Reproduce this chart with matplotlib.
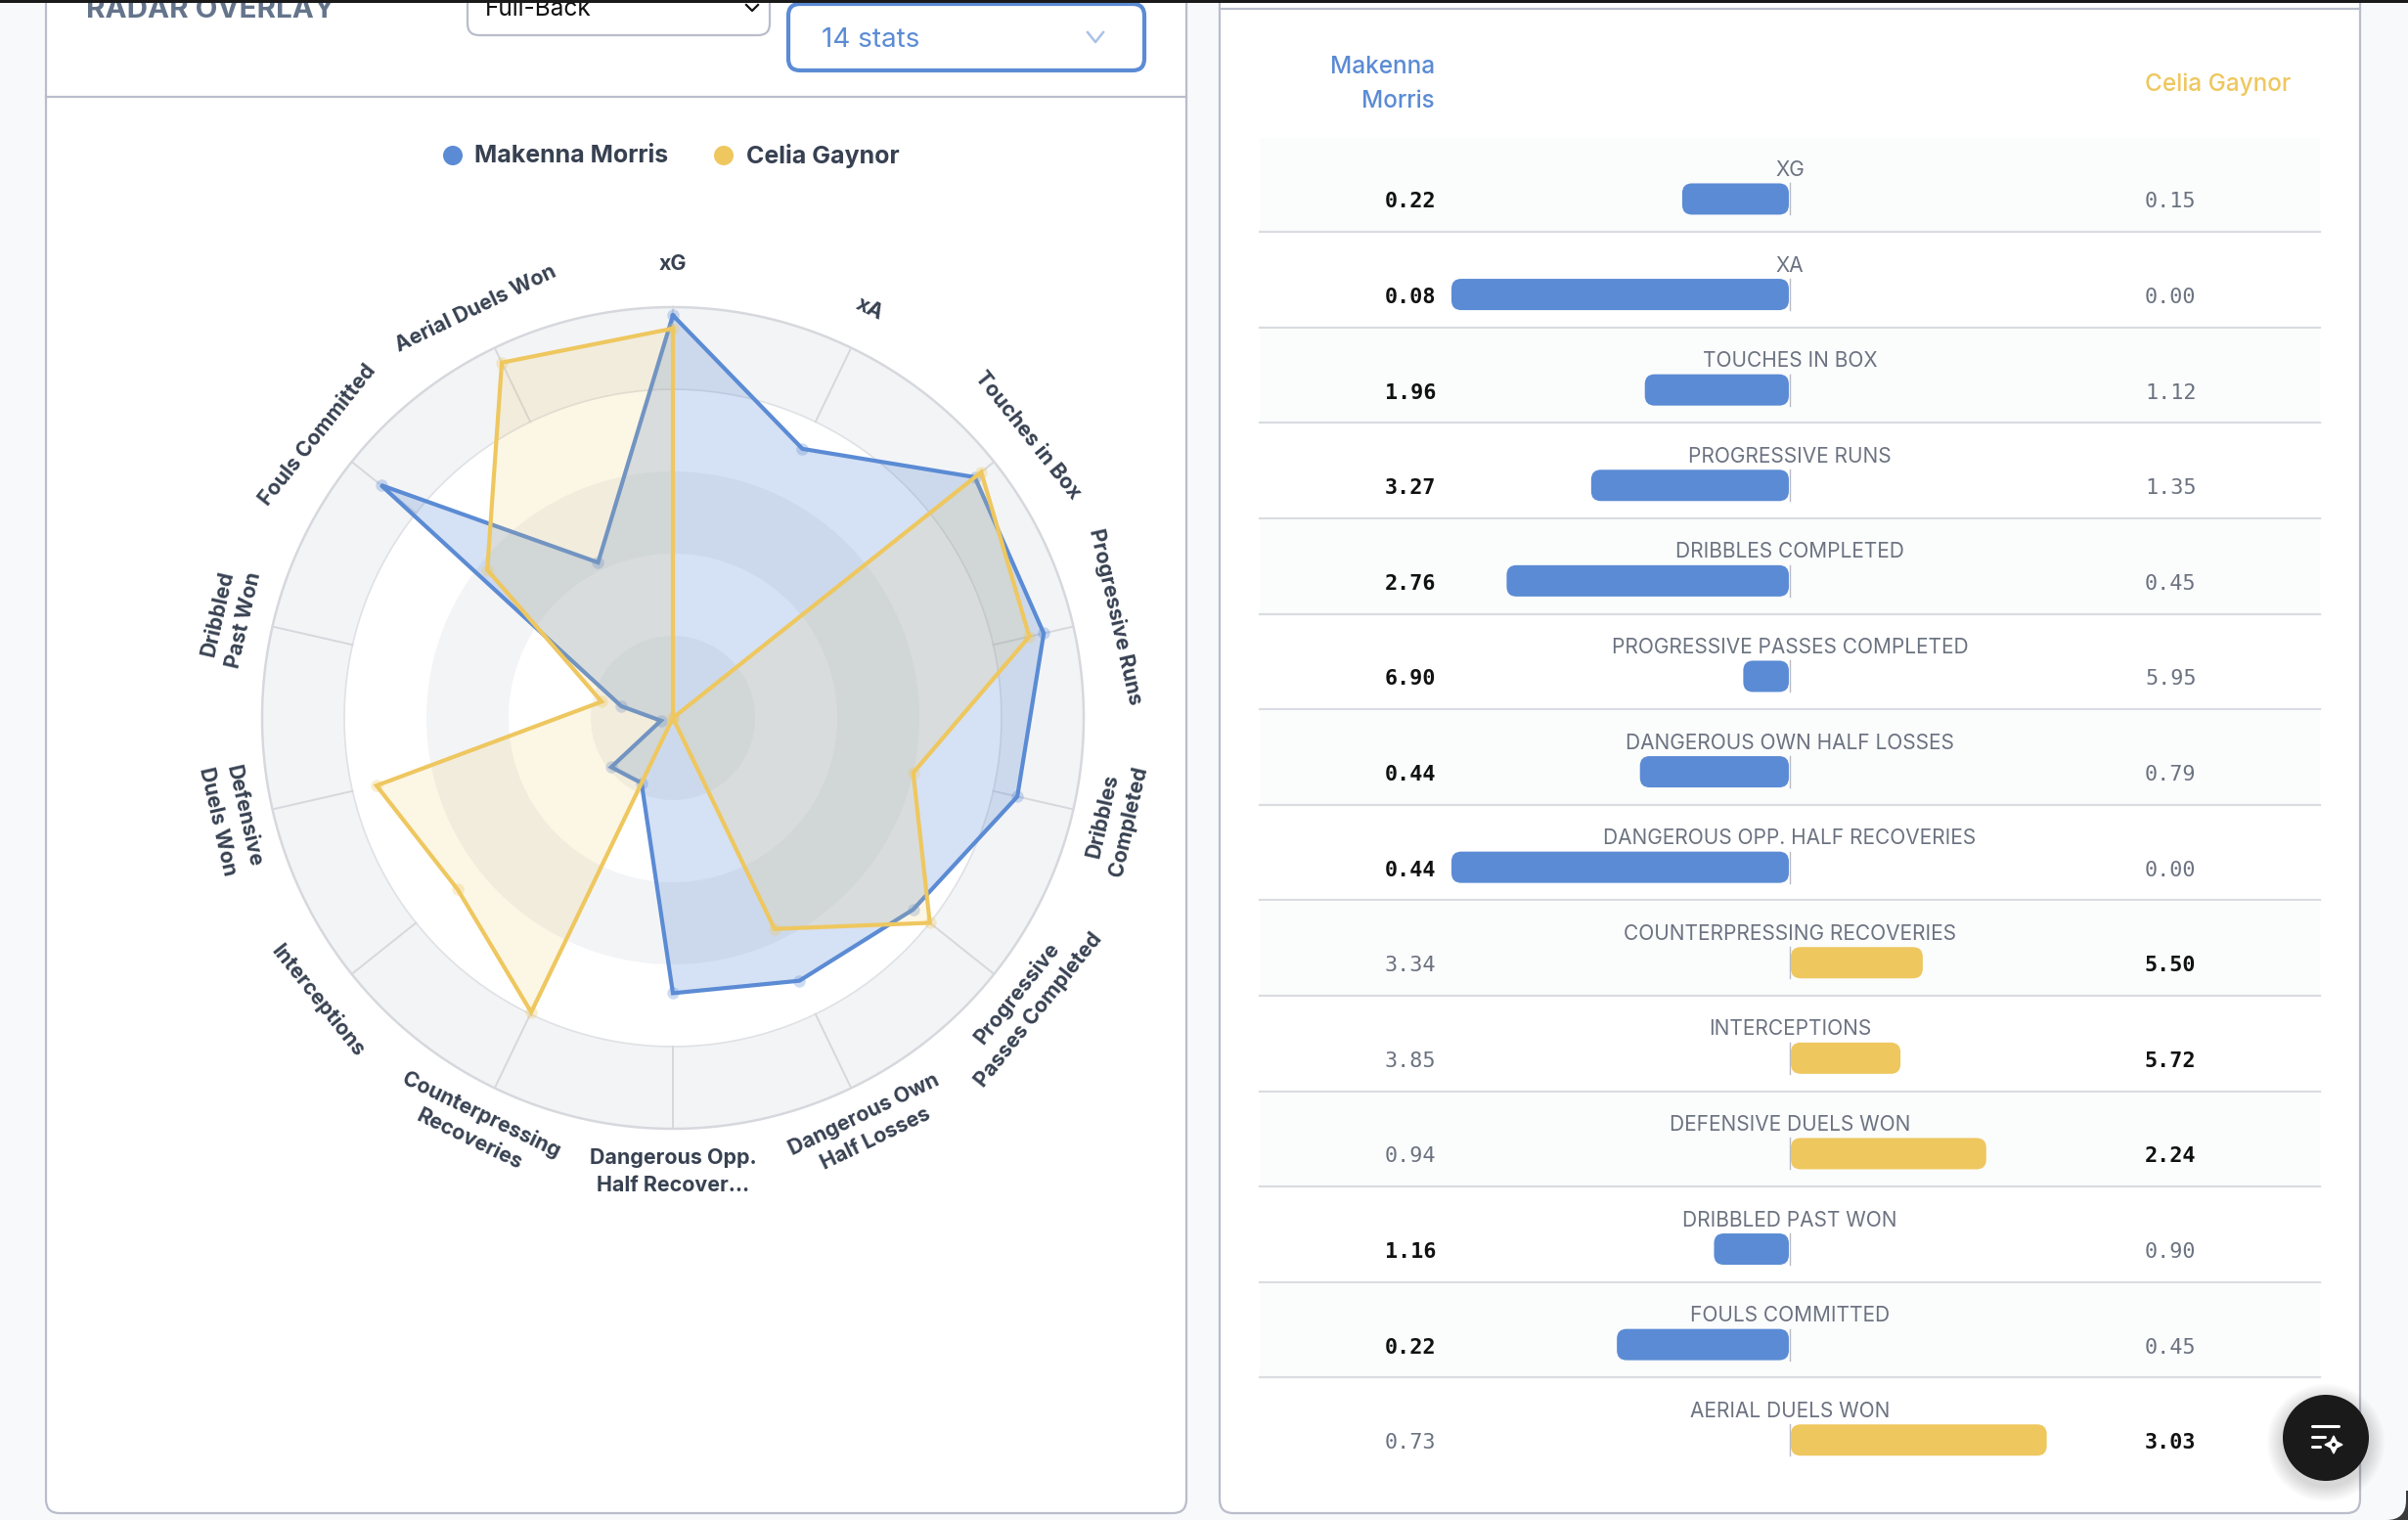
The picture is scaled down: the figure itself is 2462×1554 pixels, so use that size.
import numpy as np
import matplotlib
matplotlib.use("Agg")
import matplotlib.pyplot as plt
from matplotlib.patches import Circle, FancyBboxPatch, Rectangle, Polygon

W, H = 2462, 1554
BLUE = "#5B8BD4"
GOLD = "#EEC75F"
INK = "#374151"
MUTED = "#6B7280"
EDGE = "#B9BDCB"
BAND = "#F3F4F6"

players = ["Makenna Morris", "Celia Gaynor"]

radar_labels = ["xG", "xA", "Touches in Box", "Progressive Runs", "Dribbles\nCompleted",
                "Progressive\nPasses Completed", "Dangerous Own\nHalf Losses",
                "Dangerous Opp.\nHalf Recover…", "Counterpressing\nRecoveries", "Interceptions",
                "Defensive\nDuels Won", "Dribbled\nPast Won", "Fouls Committed", "Aerial Duels Won"]
radar_morris = [0.98, 0.727, 0.94, 0.926, 0.86, 0.748, 0.71, 0.67, 0.176, 0.192, 0.03, 0.129, 0.909, 0.42]
radar_gaynor = [0.948, 0.0, 0.96, 0.89, 0.60, 0.80, 0.57, 0.0, 0.795, 0.67, 0.74, 0.178, 0.578, 0.96]
ring_edges = [0.0, 0.2, 0.4, 0.6, 0.8, 1.0]

table_labels = ["XG", "XA", "TOUCHES IN BOX", "PROGRESSIVE RUNS", "DRIBBLES COMPLETED",
                "PROGRESSIVE PASSES COMPLETED", "DANGEROUS OWN HALF LOSSES",
                "DANGEROUS OPP. HALF RECOVERIES", "COUNTERPRESSING RECOVERIES", "INTERCEPTIONS",
                "DEFENSIVE DUELS WON", "DRIBBLED PAST WON", "FOULS COMMITTED", "AERIAL DUELS WON"]
morris_values = [0.22, 0.08, 1.96, 3.27, 2.76, 6.90, 0.44, 0.44, 3.34, 3.85, 0.94, 1.16, 0.22, 0.73]
gaynor_values = [0.15, 0.00, 1.12, 1.35, 0.45, 5.95, 0.79, 0.00, 5.50, 5.72, 2.24, 0.90, 0.45, 3.03]
# Stats where the smaller number is the better one
lower_is_better = {"DANGEROUS OWN HALF LOSSES", "FOULS COMMITTED"}

plt.rcParams["font.family"] = ["Inter", "DejaVu Sans"]
fig = plt.figure(figsize=(W / 100, H / 100), dpi=100, facecolor="#F8F9FA")

# Page furniture, laid out in pixel coordinates
page = fig.add_axes([0, 0, 1, 1], zorder=0)
page.set_xlim(0, W)
page.set_ylim(H, 0)
page.axis("off")


def card(x0, y0, x1, y1, fc="white", ec=EDGE, lw=1.6, pad=14, z=1):
    page.add_patch(FancyBboxPatch((x0 + pad, y0 + pad), x1 - x0 - 2 * pad, y1 - y0 - 2 * pad,
                                  boxstyle=f"round,pad={pad},rounding_size={pad}",
                                  fc=fc, ec=ec, lw=lw, zorder=z))


# Rounded lower-right corner of the window
page.add_patch(Rectangle((2430, 1524), 32, 30, fc="#3A3A3A", ec="none", zorder=0.1))
page.add_patch(FancyBboxPatch((2330, 1450), 110, 84, boxstyle="round,pad=20,rounding_size=20",
                              fc="#F8F9FA", ec="none", zorder=0.2))

card(47, -60, 1213, 1547)
card(1247, -60, 2413, 1547)
page.plot([47, 1213], [99, 99], color=EDGE, lw=1.6, zorder=2)
page.plot([1247, 2413], [9, 9], color=EDGE, lw=1.6, zorder=2)
page.add_patch(Rectangle((0, 0), W, 3, fc="#1A1A1A", ec="none", zorder=6))

# Header controls
page.text(88, 10, "RADAR OVERLAY", color="#64748B", fontsize=21.3, fontweight="bold", va="center", zorder=3)
card(478, -40, 787, 36, lw=1.6, pad=12, z=2)
page.text(496, 10, "Full-Back", color="#111111", fontsize=17.6, va="center", zorder=3)
page.plot([763, 769, 775], [5, 11, 5], color="#111111", lw=1.6, zorder=3)
card(806, 4, 1170, 72, ec=BLUE, lw=3, pad=12, z=2)
page.text(840, 41, "14 stats", color=BLUE, fontsize=20, va="center", zorder=3)
page.plot([1112, 1120, 1128], [33, 43, 33], color="#A9C2E8", lw=1.8, zorder=3)

# Legend above the radar
page.add_patch(Circle((463, 159), 10, fc=BLUE, ec="none", zorder=3))
page.text(485, 160, players[0], color=INK, fontsize=18.0, fontweight="bold", va="center", zorder=3)
page.add_patch(Circle((740, 159), 10, fc=GOLD, ec="none", zorder=3))
page.text(763, 160, players[1], color=INK, fontsize=18.0, fontweight="bold", va="center", zorder=3)

# Radar
cx, cy, R = 688, 734, 420
radar = fig.add_axes([(cx - R) / W, 1 - (cy + R) / H, 2 * R / W, 2 * R / H],
                     projection="polar", zorder=2)
radar.set_theta_zero_location("N")
radar.set_theta_direction(-1)
radar.set_ylim(0, 1)
radar.axis("off")
radar.patch.set_alpha(0)

theta = np.linspace(0, 2 * np.pi, len(radar_labels), endpoint=False)
for i in range(0, len(ring_edges) - 1, 2):
    radar.bar(0, ring_edges[i + 1] - ring_edges[i], width=2 * np.pi, bottom=ring_edges[i],
              color=BAND, edgecolor="none", zorder=1)
circle_t = np.linspace(0, 2 * np.pi, 361)
radar.plot(circle_t, np.full_like(circle_t, 1.0), color="#D6D8DD", lw=1.8, zorder=2, clip_on=False)
radar.plot(circle_t, np.full_like(circle_t, ring_edges[4]), color="#DFE1E5", lw=1.2, zorder=2)
for t in theta:
    radar.plot([t, t], [ring_edges[4], 1.0], color="#D6D8DD", lw=1.4, zorder=2)


def closed(values):
    return np.r_[theta, theta[0]], np.r_[values, values[0]]


for values, colour, alpha, z in [(radar_morris, BLUE, 0.25, 3), (radar_gaynor, GOLD, 0.16, 5)]:
    tt, rr = closed(values)
    radar.fill(tt, rr, color=colour, alpha=alpha, lw=0, zorder=z)
    radar.plot(theta, values, "o", ms=9, color=colour, alpha=0.3, mew=0, zorder=z + 0.1, clip_on=False)
    radar.plot(tt, rr, color=colour, lw=3.0, solid_joinstyle="miter", zorder=z + 0.2, clip_on=False)

for t, label in zip(theta, radar_labels):
    deg = np.degrees(t)
    rotation = -deg if (deg <= 90 or deg >= 270) else 180 - deg
    radar.text(t, 1.105, label, rotation=rotation, rotation_mode="anchor", ha="center", va="center",
               ma="center", color=INK, fontsize=15.4, fontweight="bold", linespacing=1.45,
               clip_on=False)

# Head-to-head table
row_top, row_step = 140.5, 97.6
rows = np.arange(len(table_labels))
page.text(1467, 68.5, "Makenna", color=BLUE, fontsize=17.5, fontweight="medium", ha="right", va="center", zorder=3)
page.text(1467, 103, "Morris", color=BLUE, fontsize=17.5, fontweight="medium", ha="right", va="center", zorder=3)
page.text(2193, 86, players[1], color=GOLD, fontsize=17.5, fontweight="medium", ha="left", va="center", zorder=3)

for i in rows:
    top = row_top + row_step * i
    if i % 2 == 0:
        page.add_patch(Rectangle((1288, top), 1084, row_step - 2, fc="#FBFCFC", ec="none", zorder=2))
    if i < len(rows) - 1:
        page.plot([1288, 2372], [top + row_step - 1] * 2, color="#DADCE2", lw=1.6, zorder=2)

bars = fig.add_axes([1484 / W, 1 - (row_top + row_step * len(rows)) / H, 692 / W, row_step * len(rows) / H], zorder=3)
bars.set_xlim(-1, 1)
bars.set_ylim(len(rows) - 0.5, -0.5)
bars.axis("off")
bars.patch.set_alpha(0)

bar_height_px = 32
for i, (name, a, b) in enumerate(zip(table_labels, morris_values, gaynor_values)):
    share = abs(a - b) / max(a, b)
    morris_leads = (a < b) if name in lower_is_better else (a > b)
    colour = BLUE if morris_leads else GOLD
    start, end = (-share, -0.003) if morris_leads else (0.003, share)
    h = bar_height_px / row_step
    yc = i + 0.145
    w = end - start
    rx = 10 / 346
    ry = 10 / row_step
    # Rounded bar: body is drawn in data units, corners scaled to the axis aspect
    box = FancyBboxPatch((start + rx, yc - h / 2 + ry), w - 2 * rx, h - 2 * ry,
                         boxstyle=f"round,pad={rx},rounding_size={rx}",
                         mutation_aspect=ry / rx, fc=colour, ec="none", zorder=2)
    bars.add_patch(box)
    bars.plot([0, 0], [yc - h / 2, yc + h / 2], color="#B8BBC4", lw=1, zorder=3)

    top = row_top + row_step * i
    page.text(1830, top + 33.5, name, color=MUTED, fontsize=15, ha="center", va="center", zorder=3)
    page.text(1468, top + 66, f"{a:.2f}", family="DejaVu Sans Mono", fontsize=15.7, ha="right", va="center",
              color="#111111" if morris_leads else MUTED, fontweight="bold" if morris_leads else "normal", zorder=3)
    page.text(2193, top + 66, f"{b:.2f}", family="DejaVu Sans Mono", fontsize=15.7, ha="left", va="center",
              color=MUTED if morris_leads else "#111111", fontweight="normal" if morris_leads else "bold", zorder=3)

# Floating action button with a soft drop shadow
for radius in np.arange(60, 44, -2):
    page.add_patch(Circle((2378, 1475), radius, fc="#000000", alpha=0.018, ec="none", zorder=5))
fab = fig.add_axes([0, 0, 1, 1], zorder=6)
fab.set_xlim(0, W)
fab.set_ylim(H, 0)
fab.axis("off")
fab.patch.set_alpha(0)
fab.add_patch(Circle((2378, 1470), 44, fc="#1A1A1A", ec="none"))
for x0, x1, y in [(2364, 2391, 1458), (2364, 2377, 1469), (2364, 2372, 1479)]:
    fab.plot([x0, x1], [y, y], color="white", lw=2.2, solid_capstyle="round")
fab.add_patch(Polygon([(2386, 1468), (2389, 1474), (2395, 1477), (2389, 1480), (2386, 1486),
                       (2383, 1480), (2377, 1477), (2383, 1474)], closed=True, fc="white", ec="white", lw=1))
fab.add_patch(Circle((2386, 1477), 2, fc="#1A1A1A", ec="none"))

fig.savefig("out.png", dpi=100, facecolor=fig.get_facecolor())
